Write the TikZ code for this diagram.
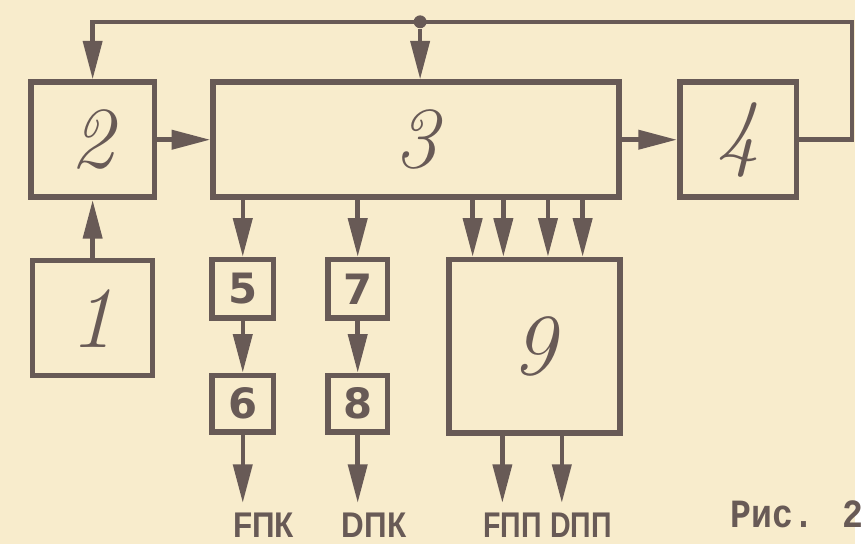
\documentclass[tikz,border=0pt]{standalone}
\usepackage{fontspec}
\newfontfamily\lblfont{Liberation Sans}
\newfontfamily\capfont{Liberation Mono}
\newfontfamily\numfont{DejaVu Sans}
\usetikzlibrary{arrows.meta}
\definecolor{paper}{RGB}{248,236,204}
\definecolor{ink}{RGB}{104,90,86}

\begin{document}
\begin{tikzpicture}[x=0.02cm,y=-0.02cm,>={Triangle[length=0.78cm,width=0.38cm]},
  blk/.style={draw=ink,line width=3.2pt,inner sep=0pt,align=center},
  bignum/.style={font=\fontsize{50}{50}\selectfont\itshape,text=ink},
  smallnum/.style={font=\numfont\bfseries\fontsize{24}{24}\selectfont,text=ink},
  arr/.style={draw=ink,line width=2.6pt,->},
  outlbl/.style={font=\lblfont\bfseries\fontsize{20.5}{20.5}\selectfont,text=ink,inner xsep=0pt,inner ysep=5.5pt}]
\fill[paper] (0,0) rectangle (863,549);
% upper row
\node[blk,bignum,minimum width=2.5cm,minimum height=2.32cm] (bk2) at (93.5,141) {2};
\node[blk,bignum,minimum width=8.2cm,minimum height=2.32cm] (bk3) at (420,141) {3};
\node[blk,bignum,minimum width=2.36cm,minimum height=2.32cm] (bk4) at (745,141) {4};
\node[blk,bignum,minimum width=2.42cm,minimum height=2.32cm] (bk1) at (93.5,321) {1};
% lower blocks
\node[blk,smallnum,minimum width=1.24cm,minimum height=1.18cm] (bk5) at (245,291.5) {5};
\node[blk,smallnum,minimum width=1.24cm,minimum height=1.14cm] (bk6) at (245,407.5) {6};
\node[blk,smallnum,minimum width=1.2cm,minimum height=1.18cm] (bk7) at (361,291.5) {7};
\node[blk,smallnum,minimum width=1.2cm,minimum height=1.14cm] (bk8) at (361,407.5) {8};
\node[blk,bignum,minimum width=3.46cm,minimum height=3.5cm] (bk9) at (539.5,349.5) {9};
% outputs
\node[outlbl] (fpk) at (266,530) {\scalebox{0.88}[1]{FПК}};
\node[outlbl] (dpk) at (377.5,530) {\scalebox{0.88}[1]{DПК}};
\node[outlbl] (fpp) at (517.5,530) {\scalebox{0.8}[1]{FПП}};
\node[outlbl] (dpp) at (586.5,530) {\scalebox{0.8}[1]{DПП}};
\node[font=\capfont\bfseries\fontsize{23}{23}\selectfont,text=ink,anchor=base west,inner sep=0pt] (fig) at (737,532) {\scalebox{0.87}[1]{Рис. 2}};
% feedback loop
\coordinate (fbr) at (860,22);
\node[circle,fill=ink,inner sep=0pt,minimum size=0.26cm] (jn) at (424,22) {};
\draw[arr] (bk4.east) -| (fbr) -| (bk2.north);
\draw[arr] (jn) -- (jn |- bk3.north);
% main chain
\draw[arr] (bk1.north) -- (bk2.south);
\draw[arr] (bk2.east) -- (bk3.west);
\draw[arr] (bk3.east |- bk4.west) -- (bk4.west);
\draw[arr] (bk5.north |- bk3.south) -- (bk5.north);
\draw[arr] (bk7.north |- bk3.south) -- (bk7.north);
\draw[arr] (477,0 |- bk3.south) -- (477,0 |- bk9.north);
\draw[arr] (508,0 |- bk3.south) -- (508,0 |- bk9.north);
\draw[arr] (553,0 |- bk3.south) -- (553,0 |- bk9.north);
\draw[arr] (588,0 |- bk3.south) -- (588,0 |- bk9.north);
\draw[arr] (bk5.south) -- (bk6.north);
\draw[arr] (bk7.south) -- (bk8.north);
\draw[arr] (bk6.south) -- (bk6.south |- fpk.north);
\draw[arr] (bk8.south) -- (bk8.south |- dpk.north);
\draw[arr] (507,0 |- bk9.south) -- (507,0 |- fpp.north);
\draw[arr] (567,0 |- bk9.south) -- (567,0 |- dpp.north);
\end{tikzpicture}
\end{document}
